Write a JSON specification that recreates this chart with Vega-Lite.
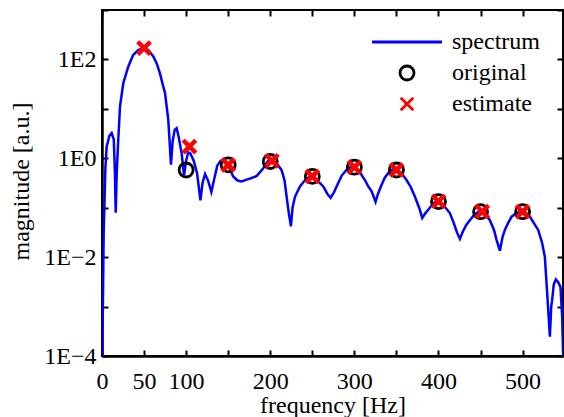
{
  "$schema": "https://vega.github.io/schema/vega-lite/v6.json",
  "autosize": {"type": "none"},
  "padding": {"left": 102, "top": 10, "right": 1, "bottom": 61},
  "width": 461,
  "height": 346,
  "config": {
    "view": {"stroke": "black", "strokeWidth": 2},
    "font": "Liberation Serif",
    "axis": {
      "grid": false,
      "domainColor": "black",
      "domainWidth": 2.5,
      "tickColor": "black",
      "tickWidth": 2,
      "tickSize": -6,
      "labelFont": "Liberation Serif",
      "labelFontSize": 24,
      "labelColor": "black",
      "titleFont": "Liberation Serif",
      "titleFontSize": 24,
      "titleFontWeight": "normal",
      "titleColor": "black",
      "labelOverlap": false,
      "labelFlush": false
    },
    "legend": {
      "labelFont": "Liberation Serif",
      "labelFontSize": 24,
      "labelColor": "black"
    }
  },
  "datasets": {
    "spectrum": [
      {"f":0,"m":0.00003},{"f":2,"m":0.03},{"f":4,"m":0.63},{"f":5.6,"m":1.73},{"f":8.7,"m":2.82},{"f":11.5,"m":3.24},{"f":14,"m":2.4},{"f":15.4,"m":0.5},{"f":16.3,"m":0.079},{"f":17.5,"m":0.5},{"f":19.4,"m":2.5},{"f":21.4,"m":11.2},{"f":25.3,"m":33},{"f":31.3,"m":72},{"f":37,"m":123},{"f":43,"m":155},{"f":49,"m":170},{"f":55,"m":155},{"f":61,"m":115},{"f":65,"m":83},{"f":68.9,"m":52},{"f":72,"m":32},{"f":74.9,"m":21},{"f":78.8,"m":6.0},{"f":80.5,"m":2.0},{"f":82,"m":0.74},{"f":84,"m":2.24},{"f":86.5,"m":3.8},{"f":88.7,"m":4.07},{"f":91,"m":2.8},{"f":94.7,"m":1.26},{"f":97.5,"m":0.45},{"f":100,"m":0.89},{"f":102.5,"m":1.32},{"f":105,"m":1.26},{"f":109,"m":0.89},{"f":113,"m":0.5},{"f":117,"m":0.141},{"f":119.5,"m":0.316},{"f":122.5,"m":0.48},{"f":126,"m":0.355},{"f":130,"m":0.209},{"f":133,"m":0.355},{"f":137,"m":0.71},{"f":141,"m":0.89},{"f":145,"m":0.89},{"f":150,"m":0.72},{"f":156,"m":0.43},{"f":161,"m":0.355},{"f":166,"m":0.34},{"f":172,"m":0.37},{"f":178,"m":0.40},{"f":184,"m":0.44},{"f":191.7,"m":0.63},{"f":197,"m":0.87},{"f":200,"m":0.93},{"f":204,"m":0.89},{"f":209,"m":0.74},{"f":213.5,"m":0.575},{"f":217,"m":0.355},{"f":219.5,"m":0.166},{"f":222,"m":0.079},{"f":224.6,"m":0.042},{"f":226.5,"m":0.1},{"f":229.4,"m":0.166},{"f":235.3,"m":0.27},{"f":241,"m":0.355},{"f":246,"m":0.417},{"f":250,"m":0.436},{"f":256,"m":0.355},{"f":263,"m":0.27},{"f":268,"m":0.19},{"f":271.8,"m":0.158},{"f":276,"m":0.209},{"f":280.8,"m":0.316},{"f":285,"m":0.447},{"f":290.8,"m":0.59},{"f":296,"m":0.676},{"f":300,"m":0.676},{"f":306,"m":0.537},{"f":312.5,"m":0.363},{"f":316,"m":0.28},{"f":320.5,"m":0.214},{"f":325.2,"m":0.132},{"f":328,"m":0.19},{"f":332.4,"m":0.29},{"f":336,"m":0.4},{"f":340.2,"m":0.5},{"f":345,"m":0.59},{"f":350,"m":0.6},{"f":356,"m":0.5},{"f":362,"m":0.363},{"f":367,"m":0.263},{"f":372,"m":0.166},{"f":377,"m":0.1},{"f":380.7,"m":0.062},{"f":384,"m":0.076},{"f":387.8,"m":0.091},{"f":392,"m":0.112},{"f":397,"m":0.135},{"f":400,"m":0.138},{"f":406,"m":0.112},{"f":413.5,"m":0.078},{"f":418,"m":0.05},{"f":422,"m":0.0316},{"f":425.4,"m":0.0234},{"f":429,"m":0.033},{"f":433,"m":0.0447},{"f":437.3,"m":0.056},{"f":443,"m":0.074},{"f":449,"m":0.085},{"f":455,"m":0.079},{"f":461,"m":0.056},{"f":466,"m":0.0355},{"f":469,"m":0.0224},{"f":473,"m":0.0135},{"f":476,"m":0.025},{"f":478.9,"m":0.0355},{"f":483,"m":0.05},{"f":486.9,"m":0.066},{"f":493,"m":0.079},{"f":499,"m":0.085},{"f":504,"m":0.079},{"f":508.6,"m":0.066},{"f":513,"m":0.05},{"f":518.5,"m":0.0355},{"f":523,"m":0.02},{"f":526.4,"m":0.0102},{"f":529.2,"m":0.00186},{"f":532.4,"m":0.000245},{"f":534,"m":0.001},{"f":535.1,"m":0.00135},{"f":537,"m":0.0028},{"f":539.5,"m":0.00355},{"f":542,"m":0.00316},{"f":545,"m":0.0025},{"f":547,"m":0.00063},{"f":549,"m":0.00003}
    ],
    "markers": [
      {"f":100,"m":0.58,"series":"original"},{"f":150,"m":0.735,"series":"original"},{"f":200,"m":0.86,"series":"original"},{"f":250,"m":0.43,"series":"original"},{"f":300,"m":0.66,"series":"original"},{"f":350,"m":0.58,"series":"original"},{"f":400,"m":0.133,"series":"original"},{"f":450,"m":0.083,"series":"original"},{"f":500,"m":0.083,"series":"original"},
      {"f":50,"m":170,"series":"estimate"},{"f":104,"m":1.73,"series":"estimate"},{"f":150,"m":0.735,"series":"estimate"},{"f":202,"m":0.89,"series":"estimate"},{"f":250,"m":0.43,"series":"estimate"},{"f":300,"m":0.66,"series":"estimate"},{"f":350,"m":0.58,"series":"estimate"},{"f":400,"m":0.135,"series":"estimate"},{"f":452,"m":0.083,"series":"estimate"},{"f":500,"m":0.083,"series":"estimate"}
    ]
  },
  "layer": [
    {
      "data": {"name": "spectrum"},
      "mark": {"type": "line", "color": "#0000ff", "strokeWidth": 2.5, "clip": true},
      "encoding": {
        "x": {
          "field": "f", "type": "quantitative",
          "scale": {"domain": [0, 548], "nice": false, "zero": false},
          "axis": {
            "orient": "bottom",
            "title": "frequency [Hz]",
            "values": [0, 50, 100, 150, 200, 250, 300, 350, 400, 450, 500],
            "labelExpr": "datum.value == 0 || datum.value == 50 || datum.value % 100 == 0 ? datum.label : ''",
            "labelPadding": 19,
            "titleX": 230.5,
            "titleY": 56,
            "titleBaseline": "alphabetic"
          }
        },
        "y": {
          "field": "m", "type": "quantitative",
          "scale": {"type": "log", "domain": [0.0001, 1000], "nice": false},
          "axis": {
            "orient": "left",
            "title": "magnitude [a.u.]",
            "values": [0.0001, 0.001, 0.01, 0.1, 1, 10, 100, 1000],
            "labelExpr": "datum.value < 0.0002 ? '1E−4' : datum.value < 0.002 ? '' : datum.value < 0.02 ? '1E−2' : datum.value < 0.2 ? '' : datum.value < 2 ? '1E0' : datum.value < 20 ? '' : datum.value < 200 ? '1E2' : ''",
            "labelPadding": 12,
            "titleX": -74,
            "titleY": 171,
            "titleBaseline": "alphabetic",
            "titleAlign": "center"
          }
        }
      }
    },
    {
      "data": {"name": "markers"},
      "transform": [{"filter": "datum.series == 'original'"}],
      "mark": {"type": "point", "filled": false, "strokeWidth": 2.8, "size": 196, "opacity": 1},
      "encoding": {
        "x": {"field": "f", "type": "quantitative", "axis": {"orient": "top", "labels": false, "title": null, "domain": false, "values": [0, 50, 100, 150, 200, 250, 300, 350, 400, 450, 500]}},
        "y": {"field": "m", "type": "quantitative", "axis": {"orient": "right", "labels": false, "title": null, "domain": false, "values": [0.0001, 0.001, 0.01, 0.1, 1, 10, 100, 1000]}},
        "color": {
          "field": "series", "type": "nominal",
          "scale": {"domain": ["spectrum", "original", "estimate"], "range": ["#0000ff", "#000000", "#ff0000"]},
          "legend": {
            "title": null,
            "orient": "none",
            "legendX": 293,
            "legendY": 20,
            "padding": 0,
            "symbolSize": 196,
            "symbolStrokeWidth": 2.8,
            "labelOffset": 33,
            "rowPadding": 6,
            "encode": {
              "symbols": {"update": {"strokeWidth": [{"test": "datum.value === 'estimate'", "value": 4.5}, {"test": "datum.value === 'spectrum'", "value": 2.5}, {"value": 2.8}]}}
            }
          }
        },
        "shape": {
          "field": "series", "type": "nominal",
          "scale": {"domain": ["spectrum", "original", "estimate"], "range": ["M-5,0L5,0", "circle", "M-0.9,-0.9L0.9,0.9M-0.9,0.9L0.9,-0.9"]}
        }
      }
    },
    {
      "data": {"name": "markers"},
      "transform": [{"filter": "datum.series == 'estimate'"}],
      "mark": {"type": "point", "filled": false, "strokeWidth": 4.5, "size": 196, "opacity": 1},
      "encoding": {
        "x": {"field": "f", "type": "quantitative", "axis": null},
        "y": {"field": "m", "type": "quantitative", "axis": null},
        "color": {"field": "series", "type": "nominal"},
        "shape": {"field": "series", "type": "nominal"}
      }
    }
  ],
  "resolve": {"axis": {"x": "independent", "y": "independent"}}
}
